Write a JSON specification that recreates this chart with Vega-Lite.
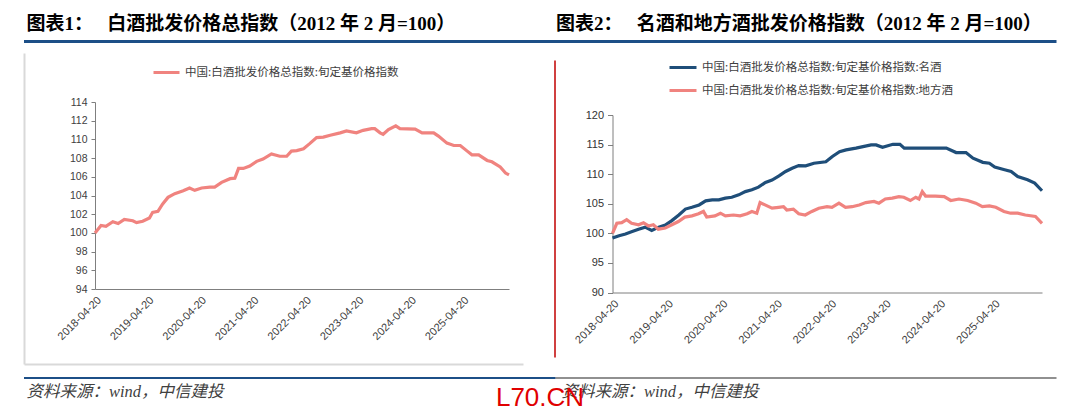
{
  "$schema": "https://vega.github.io/schema/vega-lite/v6.json",
  "width": 1080,
  "height": 419,
  "autosize": {"type": "none"},
  "padding": 0,
  "background": "white",
  "config": {
    "view": {"stroke": null},
    "font": "Noto Sans CJK SC",
    "axis": {"grid": false, "domainColor": "#7F7F7F", "tickColor": "#7F7F7F", "labelFont": "Liberation Sans", "labelColor": "#404040", "labelFontSize": 10.5}
  },
  "title": {"text": "L70.CN", "orient": "bottom", "anchor": "middle", "frame": "group", "offset": 0, "dy": -34, "baseline": "top", "font": "Liberation Sans", "fontSize": 26, "fontWeight": "normal", "color": "#E00000"},
  "datasets": {
    "total": [
      {"date": "2018-04-20", "value": 100.0},
      {"date": "2018-06-01", "value": 100.8},
      {"date": "2018-07-05", "value": 100.7},
      {"date": "2018-08-22", "value": 101.2},
      {"date": "2018-09-28", "value": 101.0},
      {"date": "2018-11-10", "value": 101.45},
      {"date": "2019-01-08", "value": 101.3},
      {"date": "2019-02-03", "value": 101.1},
      {"date": "2019-03-18", "value": 101.25},
      {"date": "2019-05-04", "value": 101.6},
      {"date": "2019-05-26", "value": 102.2},
      {"date": "2019-07-02", "value": 102.3},
      {"date": "2019-08-04", "value": 103.1},
      {"date": "2019-09-10", "value": 103.8},
      {"date": "2019-10-27", "value": 104.2},
      {"date": "2019-12-25", "value": 104.5},
      {"date": "2020-02-07", "value": 104.8},
      {"date": "2020-03-14", "value": 104.55},
      {"date": "2020-05-01", "value": 104.8},
      {"date": "2020-06-28", "value": 104.9},
      {"date": "2020-07-31", "value": 104.9},
      {"date": "2020-09-17", "value": 105.4},
      {"date": "2020-11-15", "value": 105.8},
      {"date": "2020-12-18", "value": 105.85},
      {"date": "2021-01-13", "value": 106.9},
      {"date": "2021-02-15", "value": 106.9},
      {"date": "2021-04-01", "value": 107.15},
      {"date": "2021-05-19", "value": 107.65},
      {"date": "2021-07-02", "value": 107.9},
      {"date": "2021-08-30", "value": 108.45},
      {"date": "2021-10-27", "value": 108.2},
      {"date": "2021-12-14", "value": 108.2},
      {"date": "2022-01-16", "value": 108.75},
      {"date": "2022-02-22", "value": 108.8},
      {"date": "2022-04-10", "value": 109.0},
      {"date": "2022-05-23", "value": 109.55},
      {"date": "2022-07-10", "value": 110.2},
      {"date": "2022-08-26", "value": 110.25},
      {"date": "2022-10-13", "value": 110.45},
      {"date": "2022-12-21", "value": 110.7},
      {"date": "2023-02-03", "value": 110.9},
      {"date": "2023-04-13", "value": 110.7},
      {"date": "2023-05-30", "value": 110.97},
      {"date": "2023-07-28", "value": 111.15},
      {"date": "2023-08-19", "value": 111.15},
      {"date": "2023-09-25", "value": 110.7},
      {"date": "2023-10-16", "value": 110.55},
      {"date": "2023-11-22", "value": 111.05},
      {"date": "2024-01-12", "value": 111.45},
      {"date": "2024-02-10", "value": 111.15},
      {"date": "2024-05-26", "value": 111.1},
      {"date": "2024-07-13", "value": 110.7},
      {"date": "2024-10-02", "value": 110.7},
      {"date": "2024-11-04", "value": 110.35},
      {"date": "2025-01-02", "value": 109.6},
      {"date": "2025-02-19", "value": 109.35},
      {"date": "2025-04-05", "value": 109.35},
      {"date": "2025-05-19", "value": 108.8},
      {"date": "2025-06-25", "value": 108.35},
      {"date": "2025-08-11", "value": 108.35},
      {"date": "2025-10-09", "value": 107.75},
      {"date": "2025-11-11", "value": 107.6},
      {"date": "2026-01-08", "value": 107.05},
      {"date": "2026-02-14", "value": 106.4},
      {"date": "2026-03-10", "value": 106.2}
    ],
    "brands": [
      {"date": "2018-04-20", "series": "名酒", "value": 99.2},
      {"date": "2018-06-03", "series": "名酒", "value": 99.6},
      {"date": "2018-07-16", "series": "名酒", "value": 99.9},
      {"date": "2018-08-30", "series": "名酒", "value": 100.3},
      {"date": "2018-10-12", "series": "名酒", "value": 100.7},
      {"date": "2018-11-25", "series": "名酒", "value": 101.05},
      {"date": "2019-01-08", "series": "名酒", "value": 100.5},
      {"date": "2019-02-24", "series": "名酒", "value": 101.05},
      {"date": "2019-04-09", "series": "名酒", "value": 101.4},
      {"date": "2019-05-23", "series": "名酒", "value": 102.15},
      {"date": "2019-07-09", "series": "名酒", "value": 103.1},
      {"date": "2019-08-22", "series": "名酒", "value": 104.1},
      {"date": "2019-10-05", "series": "名酒", "value": 104.4},
      {"date": "2019-11-22", "series": "名酒", "value": 104.8},
      {"date": "2020-01-05", "series": "名酒", "value": 105.5},
      {"date": "2020-02-18", "series": "名酒", "value": 105.65},
      {"date": "2020-04-02", "series": "名酒", "value": 105.65},
      {"date": "2020-05-16", "series": "名酒", "value": 105.95},
      {"date": "2020-06-28", "series": "名酒", "value": 106.1},
      {"date": "2020-08-14", "series": "名酒", "value": 106.5},
      {"date": "2020-09-27", "series": "名酒", "value": 107.05},
      {"date": "2020-11-10", "series": "名酒", "value": 107.35},
      {"date": "2020-12-24", "series": "名酒", "value": 107.8},
      {"date": "2021-02-09", "series": "名酒", "value": 108.6},
      {"date": "2021-03-25", "series": "名酒", "value": 109.0},
      {"date": "2021-05-11", "series": "名酒", "value": 109.7},
      {"date": "2021-06-24", "series": "名酒", "value": 110.45},
      {"date": "2021-08-07", "series": "名酒", "value": 111.0},
      {"date": "2021-09-20", "series": "名酒", "value": 111.45},
      {"date": "2021-11-06", "series": "名酒", "value": 111.4},
      {"date": "2021-12-31", "series": "名酒", "value": 111.85},
      {"date": "2022-03-21", "series": "名酒", "value": 112.1},
      {"date": "2022-05-04", "series": "名酒", "value": 113.0},
      {"date": "2022-06-21", "series": "名酒", "value": 113.8},
      {"date": "2022-08-04", "series": "名酒", "value": 114.1},
      {"date": "2022-10-09", "series": "名酒", "value": 114.4},
      {"date": "2022-11-25", "series": "名酒", "value": 114.65},
      {"date": "2023-01-19", "series": "名酒", "value": 114.95},
      {"date": "2023-02-21", "series": "名酒", "value": 114.95},
      {"date": "2023-04-05", "series": "名酒", "value": 114.55},
      {"date": "2023-06-14", "series": "名酒", "value": 115.05},
      {"date": "2023-07-31", "series": "名酒", "value": 115.05},
      {"date": "2023-08-29", "series": "名酒", "value": 114.4},
      {"date": "2024-01-01", "series": "名酒", "value": 114.4},
      {"date": "2024-06-06", "series": "名酒", "value": 114.4},
      {"date": "2024-08-11", "series": "名酒", "value": 113.65},
      {"date": "2024-10-16", "series": "名酒", "value": 113.65},
      {"date": "2024-12-02", "series": "名酒", "value": 112.7},
      {"date": "2025-02-06", "series": "名酒", "value": 112.0},
      {"date": "2025-03-22", "series": "名酒", "value": 111.85},
      {"date": "2025-04-27", "series": "名酒", "value": 111.2},
      {"date": "2025-07-02", "series": "名酒", "value": 110.75},
      {"date": "2025-08-15", "series": "名酒", "value": 110.45},
      {"date": "2025-09-28", "series": "名酒", "value": 109.6},
      {"date": "2025-12-03", "series": "名酒", "value": 109.05},
      {"date": "2026-01-20", "series": "名酒", "value": 108.5},
      {"date": "2026-03-10", "series": "名酒", "value": 107.2},
      {"date": "2018-04-20", "series": "地方酒", "value": 100.0},
      {"date": "2018-05-19", "series": "地方酒", "value": 101.7},
      {"date": "2018-06-21", "series": "地方酒", "value": 101.8},
      {"date": "2018-07-24", "series": "地方酒", "value": 102.3},
      {"date": "2018-08-26", "series": "地方酒", "value": 101.7},
      {"date": "2018-10-12", "series": "地方酒", "value": 101.45},
      {"date": "2018-11-14", "series": "地方酒", "value": 101.8},
      {"date": "2018-12-17", "series": "地方酒", "value": 101.25},
      {"date": "2019-01-19", "series": "地方酒", "value": 101.45},
      {"date": "2019-02-21", "series": "地方酒", "value": 100.7},
      {"date": "2019-04-09", "series": "地方酒", "value": 100.9},
      {"date": "2019-05-23", "series": "地方酒", "value": 101.45},
      {"date": "2019-07-06", "series": "地方酒", "value": 102.0},
      {"date": "2019-08-18", "series": "地方酒", "value": 102.75},
      {"date": "2019-10-05", "series": "地方酒", "value": 102.95},
      {"date": "2019-11-18", "series": "地方酒", "value": 103.3},
      {"date": "2019-12-21", "series": "地方酒", "value": 103.7},
      {"date": "2020-01-12", "series": "地方酒", "value": 102.75},
      {"date": "2020-03-07", "series": "地方酒", "value": 102.95},
      {"date": "2020-04-13", "series": "地方酒", "value": 103.4},
      {"date": "2020-05-16", "series": "地方酒", "value": 102.95},
      {"date": "2020-07-09", "series": "地方酒", "value": 103.1},
      {"date": "2020-08-23", "series": "地方酒", "value": 102.95},
      {"date": "2020-10-09", "series": "地方酒", "value": 103.3},
      {"date": "2020-11-10", "series": "地方酒", "value": 103.7},
      {"date": "2020-12-13", "series": "地方酒", "value": 103.4},
      {"date": "2021-01-04", "series": "地方酒", "value": 105.2},
      {"date": "2021-02-06", "series": "地方酒", "value": 104.8},
      {"date": "2021-03-25", "series": "地方酒", "value": 104.25},
      {"date": "2021-05-08", "series": "地方酒", "value": 104.4},
      {"date": "2021-06-10", "series": "地方酒", "value": 104.5},
      {"date": "2021-07-02", "series": "地方酒", "value": 103.95},
      {"date": "2021-08-15", "series": "地方酒", "value": 104.1},
      {"date": "2021-09-20", "series": "地方酒", "value": 103.3},
      {"date": "2021-11-03", "series": "地方酒", "value": 103.1},
      {"date": "2021-12-17", "series": "地方酒", "value": 103.7},
      {"date": "2022-02-02", "series": "地方酒", "value": 104.25},
      {"date": "2022-03-29", "series": "地方酒", "value": 104.5},
      {"date": "2022-05-01", "series": "地方酒", "value": 104.4},
      {"date": "2022-06-17", "series": "地方酒", "value": 105.1},
      {"date": "2022-07-31", "series": "地方酒", "value": 104.4},
      {"date": "2022-09-13", "series": "地方酒", "value": 104.5},
      {"date": "2022-10-31", "series": "地方酒", "value": 104.8},
      {"date": "2022-12-14", "series": "地方酒", "value": 105.2},
      {"date": "2023-02-07", "series": "地方酒", "value": 105.4},
      {"date": "2023-03-12", "series": "地方酒", "value": 105.1},
      {"date": "2023-04-24", "series": "地方酒", "value": 105.8},
      {"date": "2023-06-10", "series": "地方酒", "value": 105.95},
      {"date": "2023-07-24", "series": "地方酒", "value": 106.2},
      {"date": "2023-08-26", "series": "地方酒", "value": 106.1},
      {"date": "2023-10-09", "series": "地方酒", "value": 105.55},
      {"date": "2023-11-14", "series": "地方酒", "value": 106.1},
      {"date": "2023-12-06", "series": "地方酒", "value": 105.8},
      {"date": "2023-12-28", "series": "地方酒", "value": 107.05},
      {"date": "2024-01-19", "series": "地方酒", "value": 106.3},
      {"date": "2024-03-25", "series": "地方酒", "value": 106.3},
      {"date": "2024-05-23", "series": "地方酒", "value": 106.2},
      {"date": "2024-07-06", "series": "地方酒", "value": 105.55},
      {"date": "2024-08-30", "series": "地方酒", "value": 105.8},
      {"date": "2024-10-27", "series": "地方酒", "value": 105.55},
      {"date": "2024-12-21", "series": "地方酒", "value": 105.1},
      {"date": "2025-02-03", "series": "地方酒", "value": 104.5},
      {"date": "2025-03-22", "series": "地方酒", "value": 104.65},
      {"date": "2025-05-04", "series": "地方酒", "value": 104.4},
      {"date": "2025-06-28", "series": "地方酒", "value": 103.7},
      {"date": "2025-08-11", "series": "地方酒", "value": 103.4},
      {"date": "2025-09-28", "series": "地方酒", "value": 103.4},
      {"date": "2025-11-18", "series": "地方酒", "value": 103.1},
      {"date": "2026-01-25", "series": "地方酒", "value": 102.85},
      {"date": "2026-03-10", "series": "地方酒", "value": 101.7}
    ]
  },
  "layer": [
    {
      "data": {"name": "total"},
      "mark": {"type": "line", "opacity": 0},
      "encoding": {
        "x": {"field": "date", "type": "temporal",
          "scale": {"type": "utc", "domain": [{"year": 2018, "month": 4, "date": 20, "utc": true}, {"year": 2026, "month": 3, "date": 10, "utc": true}], "range": [23.5, 1056]},
          "axis": {"orient": "top", "offset": -41, "domainColor": "#1C4F87", "domainWidth": 3, "ticks": false, "labels": false, "title": null}},
        "y": {"field": "value", "type": "quantitative",
          "scale": {"domain": [94, 114], "range": [357, 60], "zero": false, "nice": false},
          "axis": {"orient": "left", "offset": -554.5, "domainColor": "#C00000", "domainWidth": 1.5, "ticks": false, "labels": false, "title": null}}
      }
    },
    {
      "data": {"name": "total"},
      "mark": {"type": "line", "opacity": 0},
      "encoding": {
        "x": {"field": "date", "type": "temporal",
          "scale": {"type": "utc", "domain": [{"year": 2018, "month": 4, "date": 20, "utc": true}, {"year": 2026, "month": 3, "date": 10, "utc": true}], "range": [23.5, 555]},
          "axis": {"orient": "bottom", "offset": -41.5, "domainColor": "#1C4F87", "domainWidth": 2, "ticks": false, "labels": false, "title": null}},
        "y": {"field": "value", "type": "quantitative",
          "scale": {"domain": [94, 114], "range": [364, 53], "zero": false, "nice": false},
          "axis": {"orient": "left", "offset": -24, "domainColor": "#D9D9D9", "domainWidth": 2, "ticks": false, "labels": false, "title": null}}
      }
    },
    {
      "data": {"name": "total"},
      "mark": {"type": "line", "opacity": 0},
      "encoding": {
        "x": {"field": "date", "type": "temporal",
          "scale": {"type": "utc", "domain": [{"year": 2018, "month": 4, "date": 20, "utc": true}, {"year": 2026, "month": 3, "date": 10, "utc": true}], "range": [555, 1056]},
          "axis": {"orient": "bottom", "offset": -41.5, "domainColor": "#222222", "domainWidth": 1.2, "ticks": false, "labels": false, "title": null}},
        "y": {"field": "value", "type": "quantitative", "scale": {"domain": [94, 114], "range": [364, 53], "zero": false, "nice": false}, "axis": null}
      }
    },
    {
      "data": {"name": "total"},
      "mark": {"type": "line", "opacity": 0},
      "encoding": {
        "x": {"field": "date", "type": "temporal",
          "scale": {"type": "utc", "domain": [{"year": 2018, "month": 4, "date": 20, "utc": true}, {"year": 2026, "month": 3, "date": 10, "utc": true}], "range": [24, 523]},
          "axis": {"orient": "bottom", "offset": -55, "domainColor": "#D9D9D9", "domainWidth": 2, "ticks": false, "labels": false, "title": null}},
        "y": {"field": "value", "type": "quantitative", "scale": {"domain": [94, 114], "range": [364, 53], "zero": false, "nice": false}, "axis": null}
      }
    },
    {
      "data": {"name": "total"},
      "mark": {"type": "line", "strokeWidth": 3.2},
      "encoding": {
        "x": {"field": "date", "type": "temporal",
          "scale": {"type": "utc", "domain": [{"year": 2018, "month": 4, "date": 20, "utc": true}, {"year": 2026, "month": 3, "date": 10, "utc": true}], "range": [95, 509]},
          "axis": {"orient": "bottom", "offset": -130, "format": "%Y-%m-%d", "labelAngle": -45, "labelPadding": 5, "labelFontSize": 11, "ticks": false, "labelOverlap": false, "labelFlush": false, "labelBound": false,
            "values": [{"year": 2018, "month": 4, "date": 20, "utc": true}, {"year": 2019, "month": 4, "date": 20, "utc": true}, {"year": 2020, "month": 4, "date": 20, "utc": true}, {"year": 2021, "month": 4, "date": 20, "utc": true}, {"year": 2022, "month": 4, "date": 20, "utc": true}, {"year": 2023, "month": 4, "date": 20, "utc": true}, {"year": 2024, "month": 4, "date": 20, "utc": true}, {"year": 2025, "month": 4, "date": 20, "utc": true}],
            "title": "资料来源：wind，中信建投", "titleX": 26, "titleY": 107, "titleAngle": 0, "titleAlign": "left", "titleBaseline": "alphabetic", "titleFont": "Liberation Serif, Noto Sans CJK SC", "titleFontSize": 16.5, "titleFontStyle": "italic", "titleFontWeight": "normal", "titleColor": "#404040"}},
        "y": {"field": "value", "type": "quantitative",
          "scale": {"domain": [94, 114], "range": [289, 102], "zero": false, "nice": false},
          "axis": {"orient": "left", "offset": -95, "values": [94, 96, 98, 100, 102, 104, 106, 108, 110, 112, 114], "format": "d", "tickSize": 4, "labelPadding": 4,
            "title": "图表1：\u00a0\u00a0\u00a0白酒批发价格总指数（2012 年 2 月=100）", "titleX": -69, "titleY": 29.5, "titleAngle": 0, "titleAlign": "left", "titleBaseline": "alphabetic", "titleFont": "Liberation Serif, Noto Sans CJK SC", "titleFontSize": 19, "titleFontWeight": "bold", "titleColor": "#000000"}},
        "color": {"datum": "中国:白酒批发价格总指数:旬定基价格指数", "type": "nominal",
          "scale": {"range": ["#F0837F"]},
          "legend": {"orient": "none", "legendX": 152, "legendY": 62, "title": null, "padding": 0, "symbolType": "stroke", "symbolStrokeWidth": 3, "symbolSize": 676, "clipHeight": 21, "labelOffset": 4, "labelFont": "Noto Sans CJK SC", "labelFontSize": 11.5, "labelColor": "#404040", "labelLimit": 500}}
      }
    },
    {
      "data": {"name": "brands"},
      "mark": {"type": "line", "strokeWidth": 3.2},
      "encoding": {
        "x": {"field": "date", "type": "temporal",
          "scale": {"type": "utc", "domain": [{"year": 2018, "month": 4, "date": 20, "utc": true}, {"year": 2026, "month": 3, "date": 10, "utc": true}], "range": [612.5, 1042]},
          "axis": {"orient": "bottom", "offset": -126.5, "format": "%Y-%m-%d", "labelAngle": -45, "labelPadding": 5, "labelFontSize": 11, "ticks": false, "labelOverlap": false, "labelFlush": false, "labelBound": false,
            "values": [{"year": 2018, "month": 4, "date": 20, "utc": true}, {"year": 2019, "month": 4, "date": 20, "utc": true}, {"year": 2020, "month": 4, "date": 20, "utc": true}, {"year": 2021, "month": 4, "date": 20, "utc": true}, {"year": 2022, "month": 4, "date": 20, "utc": true}, {"year": 2023, "month": 4, "date": 20, "utc": true}, {"year": 2024, "month": 4, "date": 20, "utc": true}, {"year": 2025, "month": 4, "date": 20, "utc": true}],
            "title": "资料来源：wind，中信建投", "titleX": 561, "titleY": 103.5, "titleAngle": 0, "titleAlign": "left", "titleBaseline": "alphabetic", "titleFont": "Liberation Serif, Noto Sans CJK SC", "titleFontSize": 16.5, "titleFontStyle": "italic", "titleFontWeight": "normal", "titleColor": "#404040"}},
        "y": {"field": "value", "type": "quantitative",
          "scale": {"domain": [90, 120], "range": [292.5, 115], "zero": false, "nice": false},
          "axis": {"orient": "left", "offset": -612.5, "values": [90, 95, 100, 105, 110, 115, 120], "format": "d", "tickSize": 5, "labelPadding": 4, "labelFontSize": 11, "labelColor": "#333333",
            "title": "图表2：\u00a0\u00a0\u00a0名酒和地方酒批发价格指数（2012 年 2 月=100）", "titleX": -57, "titleY": 29.5, "titleAngle": 0, "titleAlign": "left", "titleBaseline": "alphabetic", "titleFont": "Liberation Serif, Noto Sans CJK SC", "titleFontSize": 19, "titleFontWeight": "bold", "titleColor": "#000000"}},
        "color": {"field": "series", "type": "nominal",
          "scale": {"domain": ["名酒", "地方酒"], "range": ["#1F4E79", "#F0837F"]},
          "legend": {"orient": "none", "legendX": 668, "legendY": 57, "direction": "vertical", "title": null, "padding": 0, "symbolType": "stroke", "symbolStrokeWidth": 3, "symbolSize": 729, "clipHeight": 21, "rowPadding": 2, "labelOffset": 4, "labelFont": "Noto Sans CJK SC", "labelFontSize": 11.5, "labelColor": "#404040", "labelLimit": 500,
            "labelExpr": "'中国:白酒批发价格总指数:旬定基价格指数:' + datum.label"}}
      }
    }
  ],
  "resolve": {
    "scale": {"x": "independent", "y": "independent", "color": "independent"},
    "axis": {"x": "independent", "y": "independent"},
    "legend": {"color": "independent"}
  }
}
